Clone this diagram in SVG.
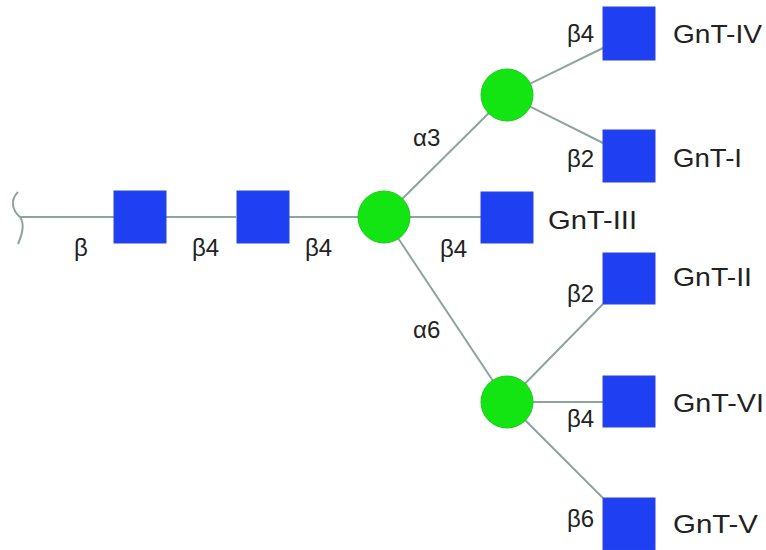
<svg xmlns="http://www.w3.org/2000/svg" width="766" height="550" viewBox="0 0 766 550">
<style>
.ln{stroke:#8ea49f;stroke-width:2;fill:none}
.sq{fill:#1f3ff2;stroke:#2a46d8;stroke-width:1}
.ci{fill:#12e512;stroke:#1fc81f;stroke-width:1}
.lb{font-family:"Liberation Sans",Arial,sans-serif;font-size:24px;fill:#222}
.nm{font-family:"Liberation Sans",Arial,sans-serif;font-size:25px;fill:#222}
</style>
<rect width="766" height="550" fill="#fff"/>
<g id="connectors">
<path class="ln" d="M18 192 C10 200,12 210,20 217 C25 224,22 235,18 244"/>
<line class="ln" x1="20" y1="217" x2="114" y2="217"/>
<line class="ln" x1="166" y1="217" x2="236" y2="217"/>
<line class="ln" x1="289" y1="217" x2="358" y2="217"/>
<line class="ln" x1="384" y1="217" x2="507" y2="95"/>
<line class="ln" x1="410" y1="217" x2="481" y2="217"/>
<line class="ln" x1="384" y1="217" x2="507" y2="402"/>
<line class="ln" x1="507" y1="95" x2="603" y2="48"/>
<line class="ln" x1="507" y1="95" x2="603" y2="143"/>
<line class="ln" x1="507" y1="402" x2="603" y2="304"/>
<line class="ln" x1="507" y1="402" x2="603" y2="402"/>
<line class="ln" x1="507" y1="402" x2="603" y2="498"/>
</g>
<g id="n1"><rect class="sq" x="114" y="191" width="52" height="52"/></g>
<g id="n2"><rect class="sq" x="237" y="191" width="52" height="52"/></g>
<g id="man-core"><circle class="ci" cx="384" cy="217" r="26"/></g>
<g id="man-a3"><circle class="ci" cx="507" cy="95" r="26"/></g>
<g id="man-a6"><circle class="ci" cx="507" cy="402" r="26"/></g>
<g id="gnt-iii"><rect class="sq" x="481" y="192" width="52" height="51"/></g>
<g id="gnt-iv"><rect class="sq" x="603" y="7" width="52" height="53"/></g>
<g id="gnt-i"><rect class="sq" x="603" y="130" width="52" height="52"/></g>
<g id="gnt-ii"><rect class="sq" x="603" y="253" width="52" height="51"/></g>
<g id="gnt-vi"><rect class="sq" x="603" y="376" width="52" height="51"/></g>
<g id="gnt-v"><rect class="sq" x="603" y="498" width="52" height="52"/></g>
<g id="labels">
<text class="lb" x="74" y="256">β</text>
<text class="lb" x="192" y="256">β4</text>
<text class="lb" x="305" y="256">β4</text>
<text class="lb" x="413" y="146">α3</text>
<text class="lb" x="440" y="257">β4</text>
<text class="lb" x="413" y="338">α6</text>
<text class="lb" x="567" y="42">β4</text>
<text class="lb" x="567" y="167">β2</text>
<text class="lb" x="567" y="302">β2</text>
<text class="lb" x="567" y="427">β4</text>
<text class="lb" x="567" y="527">β6</text>
<text class="nm" x="673" y="43" textLength="89" lengthAdjust="spacingAndGlyphs">GnT-IV</text>
<text class="nm" x="673" y="167" textLength="69" lengthAdjust="spacingAndGlyphs">GnT-I</text>
<text class="nm" x="548" y="229" textLength="89" lengthAdjust="spacingAndGlyphs">GnT-III</text>
<text class="nm" x="673" y="286" textLength="79" lengthAdjust="spacingAndGlyphs">GnT-II</text>
<text class="nm" x="673" y="412" textLength="91" lengthAdjust="spacingAndGlyphs">GnT-VI</text>
<text class="nm" x="673" y="533" textLength="85" lengthAdjust="spacingAndGlyphs">GnT-V</text>
</g>
</svg>
